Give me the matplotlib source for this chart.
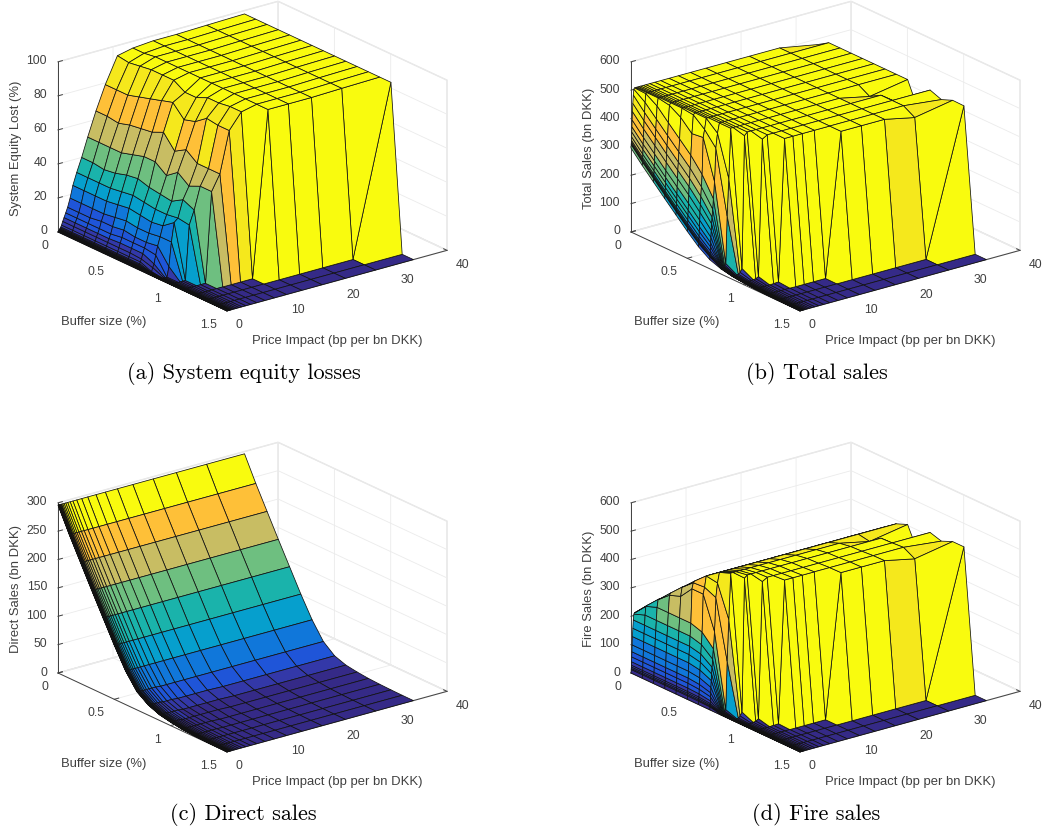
import matplotlib
matplotlib.use('Agg')
import matplotlib.pyplot as plt
import numpy as np
from mpl_toolkits.mplot3d import proj3d

plt.rcParams['font.family'] = ['Liberation Sans', 'DejaVu Sans']

FIG_W, FIG_H = 1042, 831

# grid of the surfaces
price_impact = [0, 0.045, 0.056, 0.07, 0.087, 0.11, 0.135, 0.17, 0.21, 0.27, 0.33, 0.42, 0.52, 0.65, 0.85, 1.1, 1.4,
                1.75, 2.2, 2.7, 3.4, 4.3, 5.4, 6.9, 8.6, 10.8, 13.6, 17.3, 21.5, 27, 33.9]
buffer_size = [0, 0.1, 0.2, 0.3, 0.4, 0.5, 0.6, 0.7, 0.8, 0.9, 1.0, 1.1, 1.2, 1.3, 1.4, 1.5]

low_impact_loss = [0, .2, .25, .3, .4, .5, .6, .8, 1, 1.3, 1.6, 2, 2.5, 3.5]

equity_lost = [
    low_impact_loss + [5.5, 7.5, 10, 13, 18, 25, 32, 40, 51, 65, 79, 94, 96, 97, 97, 97.5, 98],
    low_impact_loss + [5.5, 7.5, 10, 13, 18, 25, 32, 40, 51, 65, 79, 93, 96, 97, 97, 97.5, 98],
    low_impact_loss + [5.5, 7.5, 10, 13, 18, 25, 32, 39, 51, 64, 79, 94, 97, 97, 97, 97.5, 98],
    low_impact_loss + [5.5, 7.5, 10, 14, 18, 25, 32, 40, 51, 66, 81, 95, 97, 97, 97, 97.5, 98],
    low_impact_loss + [5.5, 7.5, 10, 14, 19, 26, 33, 42, 53, 67, 83, 95, 97, 97, 97, 97.5, 98],
    low_impact_loss + [5.5, 8, 11, 15, 20, 27, 34, 43, 55, 68, 85, 95, 97, 97, 97, 97.5, 98],
    low_impact_loss + [5.5, 8, 11, 14, 19, 26, 33, 41, 55, 71, 87, 91, 97, 97, 97, 97.5, 98],
    low_impact_loss + [5, 8, 11, 14, 19, 25, 32, 40, 50, 63, 80, 91, 97, 97, 97, 97.5, 98],
    [0, .1, .1, .1, .1, .2, .2, .2, .3, .3, .4, .5, .6, .8] + [3, 5, 10, 15, 20, 26, 32, 39, 55, 67, 82, 94, 97, 97, 97, 97.5, 98],
    [0] * 14 + [0, 0, 0, 6, 20, 31, 33, 43, 50, 62, 87, 94, 97, 97, 97, 97.5, 98],
    [0] * 14 + [0, 0, 0, 0, 0, 0, 32, 40, 53, 62, 86, 95, 97, 97, 97, 97.5, 98],
    [0] * 22 + [53, 62, 86, 95, 97, 97, 97, 97.5, 98],
    [0] * 26 + [97, 97, 97, 97.5, 98],
    [0] * 30 + [98],
    [0] * 31,
    [0] * 31,
]

total_sales = [
    [296, 308, 312, 317, 323, 335, 352, 370, 394, 423, 452, 481, 501] + [505] * 17 + [480],
    [253, 265, 269, 274, 280, 292, 309, 327, 351, 380, 409, 438, 473, 503] + [505] * 17,
    [213, 225, 229, 234, 240, 252, 269, 287, 311, 340, 369, 398, 433, 478] + [505] * 17,
    [173, 185, 189, 194, 200, 212, 229, 247, 271, 300, 329, 358, 393, 438, 498] + [505] * 16,
    [134, 146, 150, 155, 161, 173, 190, 208, 232, 261, 290, 319, 354, 399, 474] + [505] * 16,
    [95, 107, 111, 116, 122, 134, 151, 169, 193, 222, 251, 280, 315, 360, 435, 500] + [505] * 15,
    [59, 70, 74, 79, 85, 96, 112, 129, 152, 179, 207, 235, 268, 311, 440, 467] + [505] * 15,
    [32, 42, 45, 49, 54, 63, 77, 91, 110, 134, 157, 180, 208, 244, 304, 420, 471] + [505] * 14,
    [18, 19, 19, 19, 20, 20, 20, 21, 21, 22, 23, 24, 26, 28, 33, 200, 330] + [505] * 12 + [482, 505],
    [10] * 14 + [11, 12, 17, 29, 495] + [505] * 11 + [410],
    [6] * 14 + [6, 6, 7, 8, 9, 14, 495] + [505] * 10,
    [3] * 20 + [4, 5] + [505] * 8 + [490],
    [1.5] * 22 + [1] * 4 + [505] * 3 + [482, 506],
    [.7] * 21 + [.6] * 2 + [.5] * 4 + [.4] * 3 + [505],
    [.3] * 18 + [.2] * 7 + [.1] * 6,
    [0] * 31,
]

direct_sales = [
    [296] * 31,
    [253] * 31,
    [213] * 31,
    [173] * 31,
    [134] * 31,
    [95] * 31,
    [59] * 31,
    [32] * 15 + [31] * 6 + [30] * 10,
    [18] * 15 + [17] * 4 + [16] * 3 + [15] * 4 + [14] * 5,
    [10] * 16 + [9] * 5 + [8] * 5 + [7] * 5,
    [6] * 18 + [5] * 7 + [4] * 6,
    [3] * 23 + [2] * 8,
    [1.5] * 22 + [1] * 9,
    [.7] * 21 + [.6] * 2 + [.5] * 4 + [.4] * 4,
    [.3] * 18 + [.2] * 7 + [.1] * 6,
    [0] * 31,
]

low_impact_fire = [0, 12, 16, 21, 27, 39, 56, 74, 98, 127, 156, 185]

fire_sales = [
    low_impact_fire + [205] + [209] * 17 + [184],
    low_impact_fire + [220, 250] + [252] * 17,
    low_impact_fire + [220, 265] + [292] * 17,
    low_impact_fire + [220, 265, 325] + [332] * 16,
    low_impact_fire + [220, 265, 340] + [371] * 16,
    low_impact_fire + [220, 265, 385, 405] + [410] * 15,
    [0, 11, 15, 20, 26, 37, 53, 70, 93, 120, 148, 176, 209, 252, 385, 408] + [446] * 15,
    [0, 10, 13, 17, 22, 31, 45, 59, 78, 102, 125, 148, 176, 212, 272, 390, 440] + [475] * 14,
    [0, 1, 1, 1, 2, 2, 2, 3, 3, 4, 5, 6, 8, 10, 15, 185, 330] + [491] * 12 + [468, 491],
    [0] * 14 + [1, 2, 8, 20, 490] + [498] * 11 + [403],
    [0] * 16 + [1, 2, 4, 10, 490] + [500] * 10,
    [0] * 20 + [1, 2] + [503] * 8 + [488],
    [0] * 26 + [504] * 3 + [481, 505],
    [0] * 30 + [505],
    [0] * 31,
    [0] * 31,
]

x_ticks = [0, 10, 20, 30, 40]
y_ticks = [0, 0.5, 1, 1.5]
y_tick_labels = ['0', '0.5', '1', '1.5']

# coarse parula look: fraction of the panel maximum -> colour
band_edges = [0.03, 0.09, 0.19, 0.27, 0.37, 0.50, 0.62, 0.76, 0.88, 0.97]
band_colors = ['#352a87', '#3338a8', '#1f55d8', '#1077da', '#069fcd', '#1ab3ab', '#6ebf80', '#c8bd63', '#fec038',
               '#f5e81c', '#f9fb0e']

BOX = (1, 1, 0.657)
GREY = '#404040'


def face_colors(z):
    z = np.array(z, dtype=float)
    idx = np.searchsorted(band_edges, z / z.max(), side='right')
    rgba = matplotlib.colors.to_rgba_array(band_colors)[idx]
    # a face takes the colour of its corner at next price impact, same buffer
    return np.concatenate([rgba[:, 1:], rgba[:, -1:]], axis=1)


def to_px(ax, x, y, z):
    xs, ys, _ = proj3d.proj_transform(x, y, z, ax.get_proj())
    return ax.transData.transform((xs, ys))


def place_axes(fig, ax, origin_px, far_px):
    # move and scale the 3D box until two of its corners sit on the given pixels
    zoom = 1.0
    for i in range(4):
        fig.canvas.draw()
        a = to_px(ax, 0, 0, 0)
        b = to_px(ax, 40, 1.5, 0)
        zoom *= (far_px[0] - origin_px[0]) / (b[0] - a[0])
        ax.set_box_aspect(BOX, zoom=zoom)
        fig.canvas.draw()
        a = to_px(ax, 0, 0, 0)
        pos = ax.get_position()
        dx = (origin_px[0] - a[0]) / FIG_W
        dy = ((FIG_H - origin_px[1]) - a[1]) / FIG_H
        ax.set_position([pos.x0 + dx, pos.y0 + dy, pos.width, pos.height])
    fig.canvas.draw()


def tick_text(fig, ax, point, text, dx, dy, ha):
    # 3D tick labels cannot be nudged, so they go next to the projected tick
    px = to_px(ax, *point)
    fig.text((px[0] + dx) / FIG_W, (px[1] + dy) / FIG_H, text, ha=ha, va='center', fontsize=8.8, color=GREY)


def draw_panel(fig, z, z_max, z_step, z_label, caption, ox, oy):
    ax = fig.add_axes([(ox - 160) / FIG_W, 1 - (oy + 240) / FIG_H, 440 / FIG_W, 440 / FIG_H],
                      projection='3d', proj_type='ortho')
    ax.patch.set_alpha(0)
    ax.view_init(elev=21, azim=-127.5)
    X, Y = np.meshgrid(price_impact, buffer_size)
    ax.plot_surface(X, Y, np.array(z, dtype=float), facecolors=face_colors(z), rstride=1, cstride=1,
                    shade=False, edgecolor='#111111', linewidth=0.55, antialiased=True)
    ax.set_xlim(0, 40)
    ax.set_ylim(1.5, 0)
    ax.set_zlim(0, z_max)
    ax.set_box_aspect(BOX)
    z_ticks = list(range(0, z_max + 1, z_step))
    ax.set_xticks(x_ticks)
    ax.set_yticks(y_ticks)
    ax.set_zticks(z_ticks)
    ax.set_xticklabels([])
    ax.set_yticklabels([])
    ax.set_zticklabels([])
    ax.tick_params(colors=GREY, pad=0)
    for axis in (ax.xaxis, ax.yaxis, ax.zaxis):
        axis.set_pane_color((1, 1, 1, 1))
        axis.pane.set_edgecolor('#e3e3e3')
        axis.line.set_color(GREY)
        axis.line.set_linewidth(0.7)
        axis._axinfo['grid'].update(color='#ebebeb', linewidth=0.6)
        axis._axinfo['tick'].update(inward_factor=0.0, outward_factor=0.25, linewidth={True: 0.7, False: 0.7})
    place_axes(fig, ax, (ox, oy), (ox + 389, oy + 20))

    for t in x_ticks:
        tick_text(fig, ax, (t, 1.5, 0), str(t), 9, -14.5, 'left')
    for t, s in zip(y_ticks, y_tick_labels):
        tick_text(fig, ax, (0, t, 0), s, -10, -14, 'right')
    for t in z_ticks:
        tick_text(fig, ax, (0, 0, t), str(t), -11, 0.5, 'right')

    fig.text((ox - 42) / FIG_W, 1 - (oy - 84) / FIG_H, z_label, rotation=90, ha='center', va='center',
             fontsize=9.4, color=GREY)
    fig.text((ox + 46) / FIG_W, 1 - (oy + 90.5) / FIG_H, 'Buffer size (%)', ha='center', va='center',
             fontsize=9.4, color=GREY)
    fig.text((ox + 279) / FIG_W, 1 - (oy + 108.5) / FIG_H, 'Price Impact (bp per bn DKK)', ha='center', va='center',
             fontsize=9.4, color=GREY)
    fig.text((ox + 185.5) / FIG_W, 1 - (oy + 141.5) / FIG_H, caption, ha='center', va='center',
             fontsize=16, family='cmr10', color='black')
    return ax


def main():
    fig = plt.figure(figsize=(FIG_W / 100, FIG_H / 100), dpi=100)
    draw_panel(fig, equity_lost, 100, 20, 'System Equity Lost (%)', '(a) System equity losses', 58, 232)
    draw_panel(fig, total_sales, 600, 100, 'Total Sales (bn DKK)', '(b) Total sales', 631, 232)
    draw_panel(fig, direct_sales, 300, 50, 'Direct Sales (bn DKK)', '(c) Direct sales', 58, 673)
    draw_panel(fig, fire_sales, 600, 100, 'Fire Sales (bn DKK)', '(d) Fire sales', 631, 673)
    fig.savefig('out.png', dpi=100)


if __name__ == '__main__':
    main()
